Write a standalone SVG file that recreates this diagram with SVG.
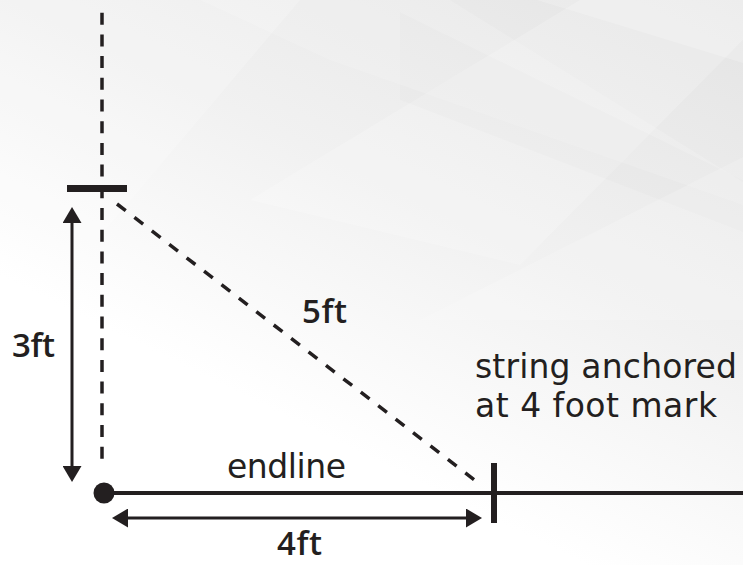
<svg xmlns="http://www.w3.org/2000/svg" width="743" height="565" viewBox="0 0 743 565">
  <defs>
    <linearGradient id="bg" x1="1" y1="0" x2="0.35" y2="1">
      <stop offset="0" stop-color="#e4e4e4"/>
      <stop offset="0.45" stop-color="#f1f1f1"/>
      <stop offset="0.8" stop-color="#ffffff"/>
    </linearGradient>
    <marker id="arrow" markerUnits="userSpaceOnUse" markerWidth="16" markerHeight="19" viewBox="0 0 16 19" refX="10" refY="9.5" orient="auto-start-reverse">
      <path d="M0,0 L16,9.5 L0,19 z" fill="#231f20"/>
    </marker>
    <style>
      .ink { stroke: #231f20; fill: none; }
      .dash { stroke: #231f20; stroke-width: 3.5; fill: none; }
      .light { font-family: "DejaVu Sans", sans-serif; font-size: 33px; fill: #231f20; }
      .bold { font-family: "Open Sans", "DejaVu Sans", sans-serif; font-weight: 600; font-size: 33px; fill: #231f20; }
    </style>
  </defs>

  <g id="background">
    <rect x="0" y="0" width="743" height="565" fill="url(#bg)"/>
    <polygon points="580,0 743,0 743,40 520,265 250,200" fill="#ffffff" opacity="0.2"/>
    <polygon points="400,12 743,180 743,232 400,100" fill="#000000" opacity="0.012"/>
    <polygon points="537,0 743,63 743,0" fill="#ffffff" opacity="0.2"/>
    <polygon points="0,0 300,0 80,260 0,300" fill="#ffffff" opacity="0.2"/>
    <polygon points="743,157 420,320 743,320" fill="#ffffff" opacity="0.18"/>
    <polygon points="200,0 450,0 743,182 743,205 330,60" fill="#ffffff" opacity="0.15"/>
  </g>

  <g id="connectors">
    <line id="vertical-guide" class="dash" x1="102" y1="12.7" x2="102" y2="462" stroke-dasharray="12 9.7"/>
    <line id="hypotenuse" class="dash" x1="117" y1="204" x2="481" y2="485" stroke-dasharray="11 11"/>
    <line id="endline-line" class="ink" x1="104" y1="493" x2="743" y2="493" stroke-width="4"/>
    <line id="arrow-3ft" class="ink" x1="72" y1="213" x2="72" y2="476" stroke-width="3" marker-start="url(#arrow)" marker-end="url(#arrow)"/>
    <line id="arrow-4ft" class="ink" x1="118" y1="518" x2="476" y2="518" stroke-width="3" marker-start="url(#arrow)" marker-end="url(#arrow)"/>
  </g>

  <g id="top-mark">
    <rect x="67" y="185" width="60" height="7" fill="#231f20"/>
  </g>

  <g id="origin-dot">
    <circle cx="104" cy="493" r="10.5" fill="#231f20"/>
  </g>

  <g id="four-foot-mark">
    <rect x="491" y="463" width="6" height="60" fill="#231f20"/>
  </g>

  <g id="labels">
    <text class="bold" x="12" y="357" textLength="43">3ft</text>
    <text class="bold" x="302" y="323" textLength="45">5ft</text>
    <text class="bold" x="277" y="555" font-size="32" textLength="45">4ft</text>
    <text class="light" x="227" y="478" textLength="119">endline</text>
    <text class="light" x="475" y="378" textLength="262">string anchored</text>
    <text class="light" x="475" y="417" textLength="242">at 4 foot mark</text>
  </g>
</svg>
